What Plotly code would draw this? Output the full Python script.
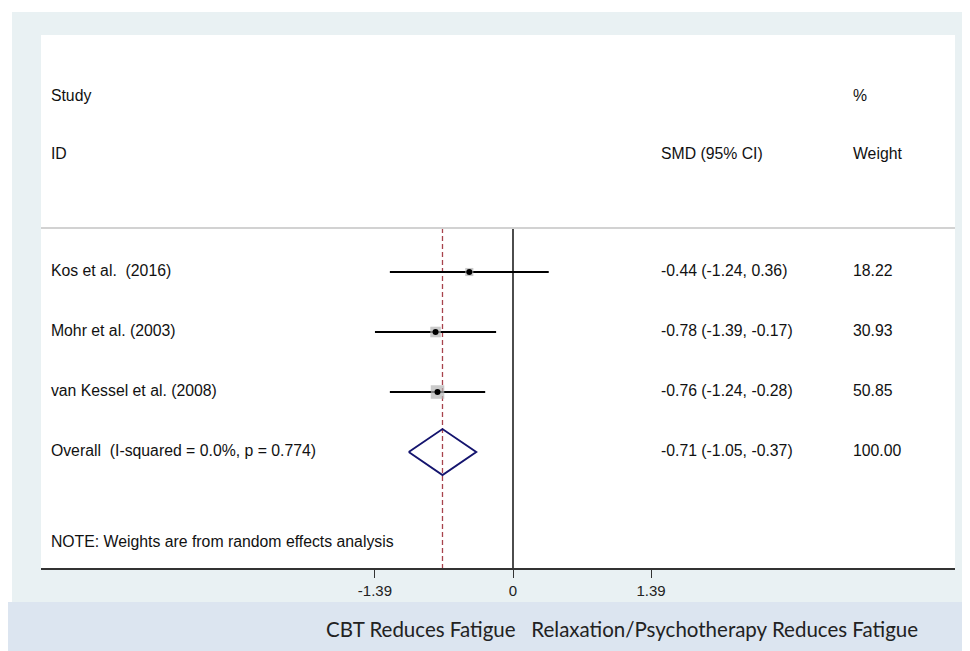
"""Forest plot: CBT vs relaxation/psychotherapy effect on fatigue."""

import plotly.graph_objects as go

# ---- data -------------------------------------------------------------
STUDIES = ["Kos et al.  (2016)", "Mohr et al. (2003)", "van Kessel et al. (2008)"]
SMD = [-0.44, -0.78, -0.76]
CI_LOW = [-1.24, -1.39, -1.24]
CI_HIGH = [0.36, -0.17, -0.28]
WEIGHTS = [18.22, 30.93, 50.85]

OVERALL_LABEL = "Overall  (I-squared = 0.0%, p = 0.774)"
OVERALL_SMD = -0.71
OVERALL_LOW = -1.05
OVERALL_HIGH = -0.37
OVERALL_WEIGHT = 100.00

NOTE = "NOTE: Weights are from random effects analysis"
TICK_VALS = [-1.39, 0, 1.39]
TICK_TEXT = ["-1.39", "0", "1.39"]
BAND_TEXT = "CBT Reduces Fatigue   Relaxation/Psychotherapy Reduces Fatigue"

# ---- layout constants (page pixels; the page body adds an 8px margin) --
PAGE_OFF = 8
W, H = 970, 651 - PAGE_OFF
PLOT_L, PLOT_R, PLOT_T, PLOT_B = 41, 955, 35, 568
X_RANGE = [-4.753, 4.451]
Y_RANGE = [4.933, -3.95]  # row units, reversed
COL_STUDY, COL_SMD, COL_WEIGHT = -4.653, 1.49, 3.424
ROW_HEAD1, ROW_HEAD2, ROW_SEP, ROW_NOTE = -2.917, -1.95, -0.733, 4.517
FONT = "Liberation Sans, Arial, sans-serif"
TEXT_SIZE = 15.8
PANEL = "#e9f1f3"
BAND = "#dce5f0"


def nb(text: str) -> str:
    return text.replace(" ", "\u00a0")


def px_x(px: float) -> float:
    return (px - PLOT_L) / (PLOT_R - PLOT_L)


def px_y(py: float) -> float:
    return (PLOT_B - py) / (PLOT_B - PLOT_T)


def text_trace(x, ys, labels):
    return go.Scatter(
        x=[x] * len(ys), y=ys, text=[nb(t) for t in labels], mode="text",
        textposition="middle right", textfont=dict(family=FONT, size=TEXT_SIZE, color="#111"),
        hoverinfo="skip", showlegend=False,
    )


def main() -> None:
    rows = list(range(len(STUDIES)))
    overall_row = len(STUDIES)
    fig = go.Figure()

    # reference lines
    fig.add_trace(go.Scatter(x=[0, 0], y=[ROW_SEP, Y_RANGE[0]], mode="lines",
                             line=dict(color="black", width=1.4), hoverinfo="skip", showlegend=False))
    fig.add_trace(go.Scatter(x=[OVERALL_SMD, OVERALL_SMD], y=[ROW_SEP, Y_RANGE[0]], mode="lines",
                             line=dict(color="#a8434c", width=1.3, dash="5px,3px"),
                             hoverinfo="skip", showlegend=False))

    # confidence intervals
    for r, lo, hi in zip(rows, CI_LOW, CI_HIGH):
        fig.add_trace(go.Scatter(x=[lo, hi], y=[r, r], mode="lines",
                                 line=dict(color="black", width=2), hoverinfo="skip", showlegend=False))

    # weight boxes + point estimates
    fig.add_trace(go.Scatter(
        x=SMD, y=rows, mode="markers",
        marker=dict(symbol="square", color="#b4b4b4", size=[1.9 * w ** 0.5 for w in WEIGHTS],
                    line=dict(width=0)),
        hoverinfo="skip", showlegend=False,
    ))
    fig.add_trace(go.Scatter(
        x=SMD, y=rows, mode="markers", marker=dict(symbol="circle", color="black", size=6),
        hovertemplate="SMD %{x:.2f}<extra></extra>", showlegend=False,
    ))

    # pooled diamond
    half = 0.383
    fig.add_trace(go.Scatter(
        x=[OVERALL_LOW, OVERALL_SMD, OVERALL_HIGH, OVERALL_SMD, OVERALL_LOW],
        y=[overall_row, overall_row - half, overall_row, overall_row + half, overall_row],
        mode="lines", line=dict(color="#14146e", width=1.9), hoverinfo="skip", showlegend=False,
    ))

    # table text
    smd_text = [f"{s:.2f} ({lo:.2f}, {hi:.2f})" for s, lo, hi in zip(SMD, CI_LOW, CI_HIGH)]
    smd_text.append(f"{OVERALL_SMD:.2f} ({OVERALL_LOW:.2f}, {OVERALL_HIGH:.2f})")
    weight_text = [f"{w:.2f}" for w in WEIGHTS] + [f"{OVERALL_WEIGHT:.2f}"]
    all_rows = rows + [overall_row]

    fig.add_trace(text_trace(COL_STUDY, [ROW_HEAD1, ROW_HEAD2] + all_rows + [ROW_NOTE],
                             ["Study", "ID"] + STUDIES + [OVERALL_LABEL, NOTE]))
    fig.add_trace(text_trace(COL_SMD, [ROW_HEAD2] + all_rows, ["SMD (95% CI)"] + smd_text))
    fig.add_trace(text_trace(COL_WEIGHT, [ROW_HEAD1, ROW_HEAD2] + all_rows,
                             ["%", "Weight"] + weight_text))

    shapes = [
        dict(type="line", xref="paper", yref="y", x0=0, x1=1, y0=ROW_SEP, y1=ROW_SEP,
             line=dict(color="#d2d2d2", width=2)),
        # outer white margin and bottom band
        dict(type="rect", xref="paper", yref="paper", x0=px_x(0), x1=px_x(990), y0=px_y(12), y1=px_y(0),
             fillcolor="white", line=dict(width=0), layer="above"),
        dict(type="rect", xref="paper", yref="paper", x0=px_x(0), x1=px_x(12), y0=px_y(602), y1=px_y(0),
             fillcolor="white", line=dict(width=0), layer="above"),
        dict(type="rect", xref="paper", yref="paper", x0=px_x(8), x1=px_x(990), y0=px_y(660), y1=px_y(602),
             fillcolor=BAND, line=dict(width=0), layer="above"),
    ]

    fig.update_layout(
        width=W, height=H,
        margin=dict(l=PLOT_L - PAGE_OFF, r=W + PAGE_OFF - PLOT_R, t=PLOT_T - PAGE_OFF,
                    b=651 - PLOT_B, pad=0),
        paper_bgcolor=PANEL, plot_bgcolor="white",
        shapes=shapes,
        annotations=[dict(
            text=nb(BAND_TEXT), xref="paper", yref="paper", x=px_x(622), y=px_y(629),
            xanchor="center", yanchor="middle", showarrow=False,
            font=dict(family="Lato, Open Sans, sans-serif", size=20.5, color="#222"),
        )],
        showlegend=False,
    )
    fig.update_xaxes(
        range=X_RANGE, tickvals=TICK_VALS, ticktext=TICK_TEXT, ticks="outside", ticklen=8,
        tickcolor="#333", tickwidth=1, showline=True, linecolor="#333", linewidth=1.5,
        showgrid=False, zeroline=False, fixedrange=True,
        tickfont=dict(family=FONT, size=15, color="#222"),
    )
    fig.update_yaxes(range=Y_RANGE, visible=False, showgrid=False, zeroline=False, fixedrange=True)

    fig.write_html("out.html")


if __name__ == "__main__":
    main()
